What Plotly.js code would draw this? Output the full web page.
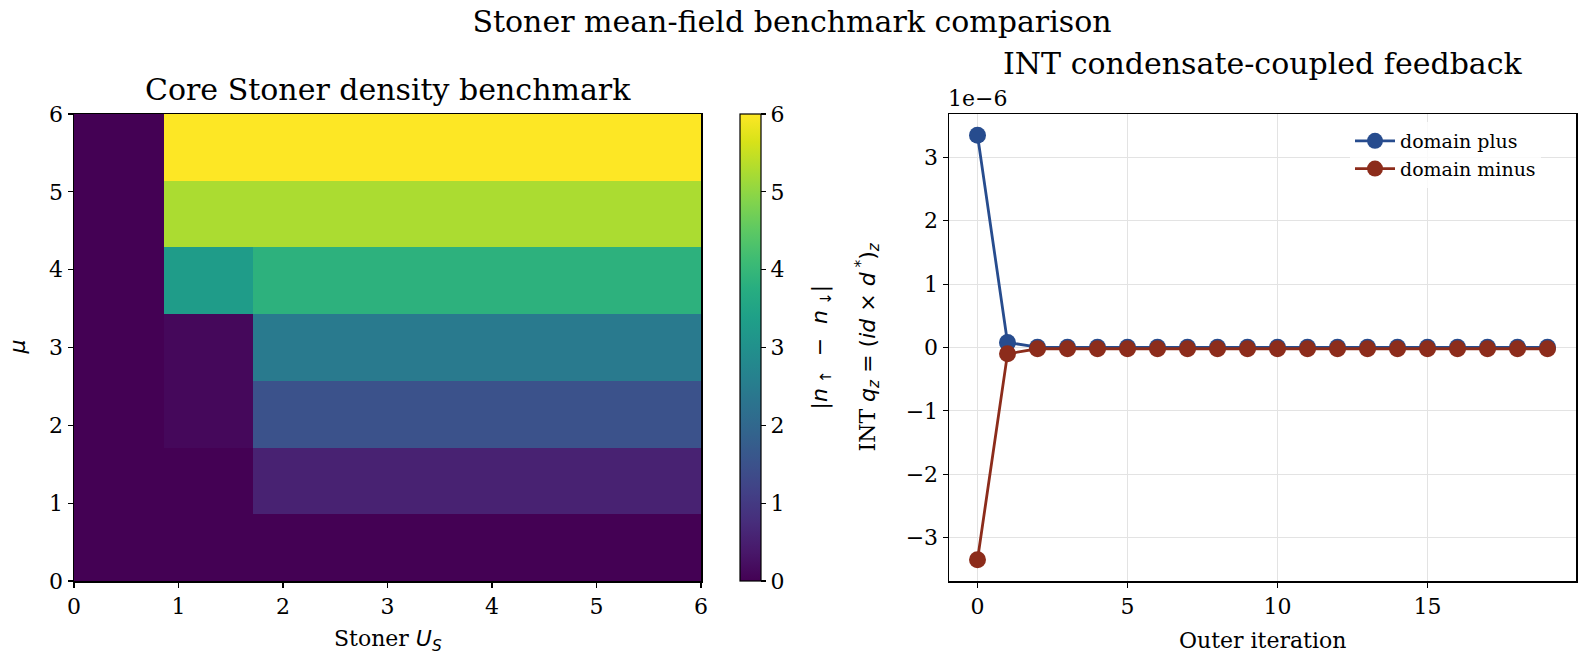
<!DOCTYPE html>
<html>
<head>
<meta charset="utf-8">
<script src="https://cdn.plot.ly/plotly-3.0.1.min.js"></script>
<style>
  html, body { margin: 0; padding: 0; background: #fff; }
  #chart { width: 1584px; height: 666px; }
</style>
</head>
<body>
<div id="chart"></div>
<script>
// Stoner grid: bin edges for U_S (x) and mu (y)
const usEdges = [0, 0.857, 1.714, 2.571, 3.429, 4.286, 5.143, 6.0];
const muEdges = [0, 0.857, 1.714, 2.571, 3.429, 4.286, 5.143, 6.0];

// |n_up - n_down| per (mu row, U_S column)
const polRow0 = [0, 0, 0, 0, 0, 0, 0];
const polRow1 = [0, 0, 0.55, 0.55, 0.55, 0.55, 0.55];
const polRow2 = [0, 0.12, 1.5, 1.5, 1.5, 1.5, 1.5];
const polRow3 = [0, 0.12, 2.45, 2.45, 2.45, 2.45, 2.45];
const polRow4 = [0, 3.3, 3.85, 3.85, 3.85, 3.85, 3.85];
const polRow5 = [0, 5.25, 5.25, 5.25, 5.25, 5.25, 5.25];
const polRow6 = [0, 6.0, 6.0, 6.0, 6.0, 6.0, 6.0];

// Outer-iteration feedback, q_z for each domain
const iterations = [0,1,2,3,4,5,6,7,8,9,10,11,12,13,14,15,16,17,18,19];
const qPlus  = [3.35e-6, 0.08e-6, 0.005e-6, 0.002e-6, 0.002e-6, 0.002e-6, 0.002e-6, 0.002e-6, 0.002e-6, 0.002e-6,
                0.002e-6, 0.002e-6, 0.002e-6, 0.002e-6, 0.002e-6, 0.002e-6, 0.002e-6, 0.002e-6, 0.002e-6, 0.002e-6];
const qMinus = [-3.35e-6, -0.1e-6, -0.02e-6, -0.02e-6, -0.02e-6, -0.02e-6, -0.02e-6, -0.02e-6, -0.02e-6, -0.02e-6,
                -0.02e-6, -0.02e-6, -0.02e-6, -0.02e-6, -0.02e-6, -0.02e-6, -0.02e-6, -0.02e-6, -0.02e-6, -0.02e-6];

const qTicks = [-3, -2, -1, 0, 1, 2, 3];

const serif = 'DejaVu Serif';
const sans = 'DejaVu Sans';
const W = 1584, H = 666;
const px = v => v / W;
const py = v => 1 - v / H;

const zGrid = [polRow0, polRow1, polRow2, polRow3, polRow4, polRow5, polRow6];

const blue = '#274c8e';
const red = '#8c2c1b';
const tickSize = 22;
const titleSize = 30;

const traces = [
  {
    type: 'heatmap',
    x: usEdges, y: muEdges, z: zGrid,
    colorscale: 'Viridis', zmin: 0, zmax: 6,
    xaxis: 'x', yaxis: 'y',
    hoverinfo: 'skip',
    colorbar: {
      x: px(740), xanchor: 'left',
      y: (py(114) + py(581)) / 2, yanchor: 'middle',
      len: py(114) - py(581), lenmode: 'fraction',
      thickness: 21, thicknessmode: 'pixels',
      outlinewidth: 1.2, outlinecolor: '#000',
      tickvals: [0,1,2,3,4,5,6],
      ticks: 'outside', ticklen: 5, tickwidth: 1.2, tickcolor: '#000',
      tickfont: {family: serif, size: tickSize, color: '#000'},
      xpad: 0, ypad: 0
    }
  },
  {
    type: 'scatter', mode: 'lines+markers',
    x: iterations, y: qPlus, name: 'domain plus',
    xaxis: 'x2', yaxis: 'y2',
    line: {color: blue, width: 2.8},
    marker: {color: blue, size: 17}
  },
  {
    type: 'scatter', mode: 'lines+markers',
    x: iterations, y: qMinus, name: 'domain minus',
    xaxis: 'x2', yaxis: 'y2',
    line: {color: red, width: 2.8},
    marker: {color: red, size: 17}
  }
];

const axCommon = {
  showline: true, linecolor: '#000', linewidth: 1.5, mirror: true,
  ticks: 'outside', ticklen: 5, tickwidth: 1.2, tickcolor: '#000',
  tickfont: {family: serif, size: tickSize, color: '#000'},
  zeroline: false
};

const layout = {
  width: W, height: H,
  margin: {l: 0, r: 0, t: 0, b: 0},
  paper_bgcolor: '#fff', plot_bgcolor: '#fff',
  showlegend: true,
  title: {
    text: 'Stoner mean-field benchmark comparison',
    font: {family: serif, size: titleSize, color: '#000'},
    x: 0.5, xanchor: 'center', y: py(21), yanchor: 'middle'
  },
  xaxis: Object.assign({}, axCommon, {
    domain: [px(74), px(701)], anchor: 'y',
    range: [0, 6], tickvals: [0,1,2,3,4,5,6], showgrid: false
  }),
  yaxis: Object.assign({}, axCommon, {
    domain: [py(581), py(114)], anchor: 'x',
    range: [0, 6], tickvals: [0,1,2,3,4,5,6], showgrid: false
  }),
  xaxis2: Object.assign({}, axCommon, {
    domain: [px(949), px(1576)], anchor: 'y2',
    range: [-0.95, 19.95], tickvals: [0, 5, 10, 15],
    showgrid: true, gridcolor: '#e3e3e3', gridwidth: 1
  }),
  yaxis2: Object.assign({}, axCommon, {
    domain: [py(581), py(114)], anchor: 'x2',
    range: [-3.685e-6, 3.685e-6],
    tickvals: qTicks.map(v => v * 1e-6),
    ticktext: qTicks.map(v => v < 0 ? '−' + Math.abs(v) : String(v)),
    showgrid: true, gridcolor: '#e3e3e3', gridwidth: 1
  }),
  legend: {
    x: px(1350), y: py(122), xanchor: 'left', yanchor: 'top',
    bgcolor: 'rgba(255,255,255,0.8)', borderwidth: 0,
    font: {family: serif, size: 19, color: '#000'},
    itemwidth: 40, tracegroupgap: 2
  },
  shapes: [
    {type: 'line', xref: 'x2 domain', yref: 'y2', x0: 0, x1: 1, y0: 0, y1: 0,
     line: {color: '#333', width: 1.2}, layer: 'below'}
  ],
  annotations: [
    {text: 'Core Stoner density benchmark', xref: 'paper', yref: 'paper',
     x: (px(74) + px(701)) / 2, y: py(89), xanchor: 'center', yanchor: 'middle',
     showarrow: false, font: {family: serif, size: titleSize, color: '#000'}},
    {text: 'INT condensate-coupled feedback', xref: 'paper', yref: 'paper',
     x: (px(949) + px(1576)) / 2, y: py(63), xanchor: 'center', yanchor: 'middle',
     showarrow: false, font: {family: serif, size: titleSize, color: '#000'}},
    {text: '1e−6', xref: 'paper', yref: 'paper',
     x: px(946), y: py(98), xanchor: 'left', yanchor: 'middle',
     showarrow: false, font: {family: serif, size: tickSize, color: '#000'}},
    {text: '|<i>n</i><sub> ↑</sub>  −  <i>n</i><sub> ↓</sub>|', xref: 'paper', yref: 'paper',
     x: px(821), y: (py(114) + py(581)) / 2, xanchor: 'center', yanchor: 'middle',
     textangle: -90, showarrow: false, font: {family: sans, size: 22, color: '#000'}},
    {text: 'Stoner <i style="font-family:DejaVu Sans">U</i><sub><i style="font-family:DejaVu Sans">S</i></sub>',
     xref: 'paper', yref: 'paper',
     x: (px(74) + px(701)) / 2, y: py(640), xanchor: 'center', yanchor: 'middle',
     showarrow: false, font: {family: serif, size: tickSize, color: '#000'}},
    {text: 'Outer iteration', xref: 'paper', yref: 'paper',
     x: (px(949) + px(1576)) / 2, y: py(640), xanchor: 'center', yanchor: 'middle',
     showarrow: false, font: {family: serif, size: tickSize, color: '#000'}},
    {text: '<i>μ</i>', xref: 'paper', yref: 'paper',
     x: px(17), y: (py(114) + py(581)) / 2, xanchor: 'center', yanchor: 'middle',
     textangle: -90, showarrow: false, font: {family: sans, size: tickSize, color: '#000'}},
    {text: 'INT <span style="font-family:DejaVu Sans"><i>q</i><sub><i>z</i></sub> = (<i>id</i> × <i>d</i><sup> *</sup>)<sub><i>z</i></sub></span>',
     xref: 'paper', yref: 'paper',
     x: px(867), y: (py(114) + py(581)) / 2, xanchor: 'center', yanchor: 'middle',
     textangle: -90, showarrow: false, font: {family: serif, size: tickSize, color: '#000'}}
  ]
};

Plotly.newPlot('chart', traces, layout, {displayModeBar: false, staticPlot: true});
</script>
</body>
</html>
